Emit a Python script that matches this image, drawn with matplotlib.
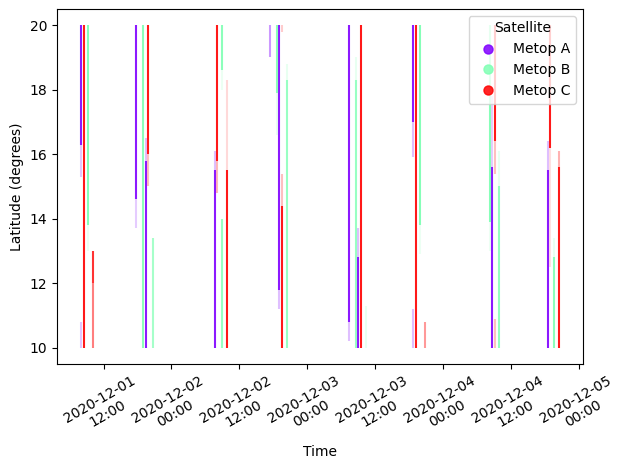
import matplotlib
matplotlib.use("Agg")
import matplotlib.pyplot as plt
import matplotlib.dates as mdates
from matplotlib.lines import Line2D
from matplotlib.colors import to_rgba
import pandas as pd

satellites = ["Metop A", "Metop B", "Metop C"]
sat_colors = {"Metop A": "#8000ff", "Metop B": "#80ffb4", "Metop C": "#ff0000"}

# Each streak segment: satellite, time, latitude low, latitude high, opacity
seg_sat = [
    "Metop A", "Metop A", "Metop A", "Metop C", "Metop B", "Metop B", "Metop C", "Metop C",
    "Metop A", "Metop A", "Metop B", "Metop A", "Metop A", "Metop C", "Metop C", "Metop B",
    "Metop A", "Metop A", "Metop C", "Metop C", "Metop B", "Metop B", "Metop B", "Metop C", "Metop C",
    "Metop A", "Metop B", "Metop B", "Metop A", "Metop A", "Metop C", "Metop C", "Metop C", "Metop B", "Metop B",
    "Metop A", "Metop A", "Metop B", "Metop B", "Metop A", "Metop A", "Metop C", "Metop B",
    "Metop A", "Metop A", "Metop A", "Metop C", "Metop B", "Metop B", "Metop C",
    "Metop B", "Metop B", "Metop A", "Metop A", "Metop C", "Metop C", "Metop C", "Metop B", "Metop B",
    "Metop A", "Metop A", "Metop C", "Metop C", "Metop B", "Metop B", "Metop C", "Metop C",
]
seg_time = [
    "2020-12-01 08:00", "2020-12-01 08:00", "2020-12-01 08:00", "2020-12-01 08:32", "2020-12-01 09:15", "2020-12-01 09:15", "2020-12-01 10:07", "2020-12-01 10:07",
    "2020-12-01 17:44", "2020-12-01 17:44", "2020-12-01 18:58", "2020-12-01 19:30", "2020-12-01 19:30", "2020-12-01 19:54", "2020-12-01 19:54", "2020-12-01 20:44",
    "2020-12-02 07:42", "2020-12-02 07:42", "2020-12-02 08:07", "2020-12-02 08:07", "2020-12-02 09:00", "2020-12-02 09:00", "2020-12-02 09:00", "2020-12-02 09:49", "2020-12-02 09:49",
    "2020-12-02 17:26", "2020-12-02 18:43", "2020-12-02 18:43", "2020-12-02 19:04", "2020-12-02 19:04", "2020-12-02 19:29", "2020-12-02 19:29", "2020-12-02 19:29", "2020-12-02 20:19", "2020-12-02 20:19",
    "2020-12-03 07:20", "2020-12-03 07:20", "2020-12-03 08:31", "2020-12-03 08:31", "2020-12-03 08:59", "2020-12-03 08:59", "2020-12-03 09:27", "2020-12-03 10:17",
    "2020-12-03 18:43", "2020-12-03 18:43", "2020-12-03 18:43", "2020-12-03 19:11", "2020-12-03 19:58", "2020-12-03 19:58", "2020-12-03 20:50",
    "2020-12-04 08:15", "2020-12-04 08:15", "2020-12-04 08:40", "2020-12-04 08:40", "2020-12-04 09:03", "2020-12-04 09:03", "2020-12-04 09:03", "2020-12-04 09:52", "2020-12-04 09:52",
    "2020-12-04 18:25", "2020-12-04 18:25", "2020-12-04 18:50", "2020-12-04 18:50", "2020-12-04 19:35", "2020-12-04 19:35", "2020-12-04 20:28", "2020-12-04 20:28",
]
seg_lo = [
    16.3, 15.3, 10.0, 10.0, 13.8, 13.0, 12.0, 10.0,
    14.6, 13.7, 10.0, 10.0, 15.8, 16.0, 15.0, 10.0,
    10.0, 15.5, 15.8, 14.8, 18.6, 18.0, 10.0, 10.0, 15.5,
    19.0, 17.9, 16.6, 11.8, 11.2, 10.0, 14.4, 19.8, 10.0, 18.3,
    10.8, 10.2, 10.0, 18.3, 10.0, 12.8, 10.0, 10.0,
    17.0, 15.9, 10.0, 10.0, 13.8, 12.9, 10.0,
    13.9, 13.0, 10.0, 15.6, 16.4, 15.4, 10.0, 10.0, 15.0,
    10.0, 15.5, 16.2, 12.5, 10.0, 12.8, 10.0, 15.6,
]
seg_hi = [
    20.0, 16.3, 10.8, 20.0, 20.0, 13.8, 13.0, 12.0,
    20.0, 14.6, 20.0, 15.8, 16.5, 20.0, 16.0, 13.4,
    15.5, 16.1, 20.0, 15.8, 20.0, 18.6, 14.0, 15.5, 18.3,
    20.0, 20.0, 17.9, 20.0, 11.8, 14.4, 15.4, 20.0, 18.3, 18.8,
    20.0, 10.8, 18.3, 19.0, 12.8, 13.7, 20.0, 11.3,
    20.0, 17.0, 11.2, 20.0, 20.0, 13.8, 10.8,
    20.0, 13.9, 15.6, 17.8, 20.0, 16.4, 10.9, 15.0, 16.1,
    15.5, 16.4, 20.0, 16.2, 12.8, 13.4, 15.6, 16.1,
]
seg_alpha = [
    0.9, 0.22, 0.22, 0.9, 0.95, 0.15, 0.8, 0.5,
    0.9, 0.2, 0.9, 0.9, 0.25, 0.9, 0.25, 0.7,
    0.9, 0.25, 0.9, 0.28, 0.9, 0.15, 0.8, 0.9, 0.15,
    0.4, 0.9, 0.18, 0.9, 0.25, 0.9, 0.25, 0.2, 0.8, 0.18,
    0.9, 0.25, 0.8, 0.18, 0.9, 0.25, 0.9, 0.18,
    0.9, 0.25, 0.25, 0.9, 0.95, 0.15, 0.4,
    0.95, 0.15, 0.9, 0.2, 0.9, 0.25, 0.25, 0.85, 0.18,
    0.9, 0.25, 0.9, 0.12, 0.9, 0.18, 0.9, 0.3,
]

df = pd.DataFrame({
    "sat": seg_sat,
    "time": pd.to_datetime(seg_time),
    "lo": seg_lo,
    "hi": seg_hi,
    "alpha": seg_alpha,
})

fig = plt.figure(figsize=(6.29, 4.70), dpi=100)
ax = fig.add_axes([0.0906, 0.2255, 0.8364, 0.7555])

for z, s in enumerate(satellites):
    d = df[df["sat"] == s]
    cols = [to_rgba(sat_colors[s], a) for a in d["alpha"]]
    ax.vlines(d["time"], d["lo"], d["hi"], colors=cols, linewidth=1.5, zorder=2 + z)

ax.xaxis.set_major_locator(mdates.HourLocator(byhour=[0, 12]))
ax.xaxis.set_major_formatter(mdates.DateFormatter("%Y-%m-%d\n%H:%M"))
plt.setp(ax.get_xticklabels(), rotation=30)
ax.set_xlabel("Time")
ax.set_ylabel("Latitude (degrees)")

handles = [Line2D([0], [0], marker="o", linestyle="none", markersize=6.5,
                  markerfacecolor=sat_colors[s], markeredgecolor=sat_colors[s], alpha=0.85)
           for s in satellites]
ax.legend(handles, satellites, title="Satellite", loc="upper right")

fig.savefig("out.png", dpi=100)
